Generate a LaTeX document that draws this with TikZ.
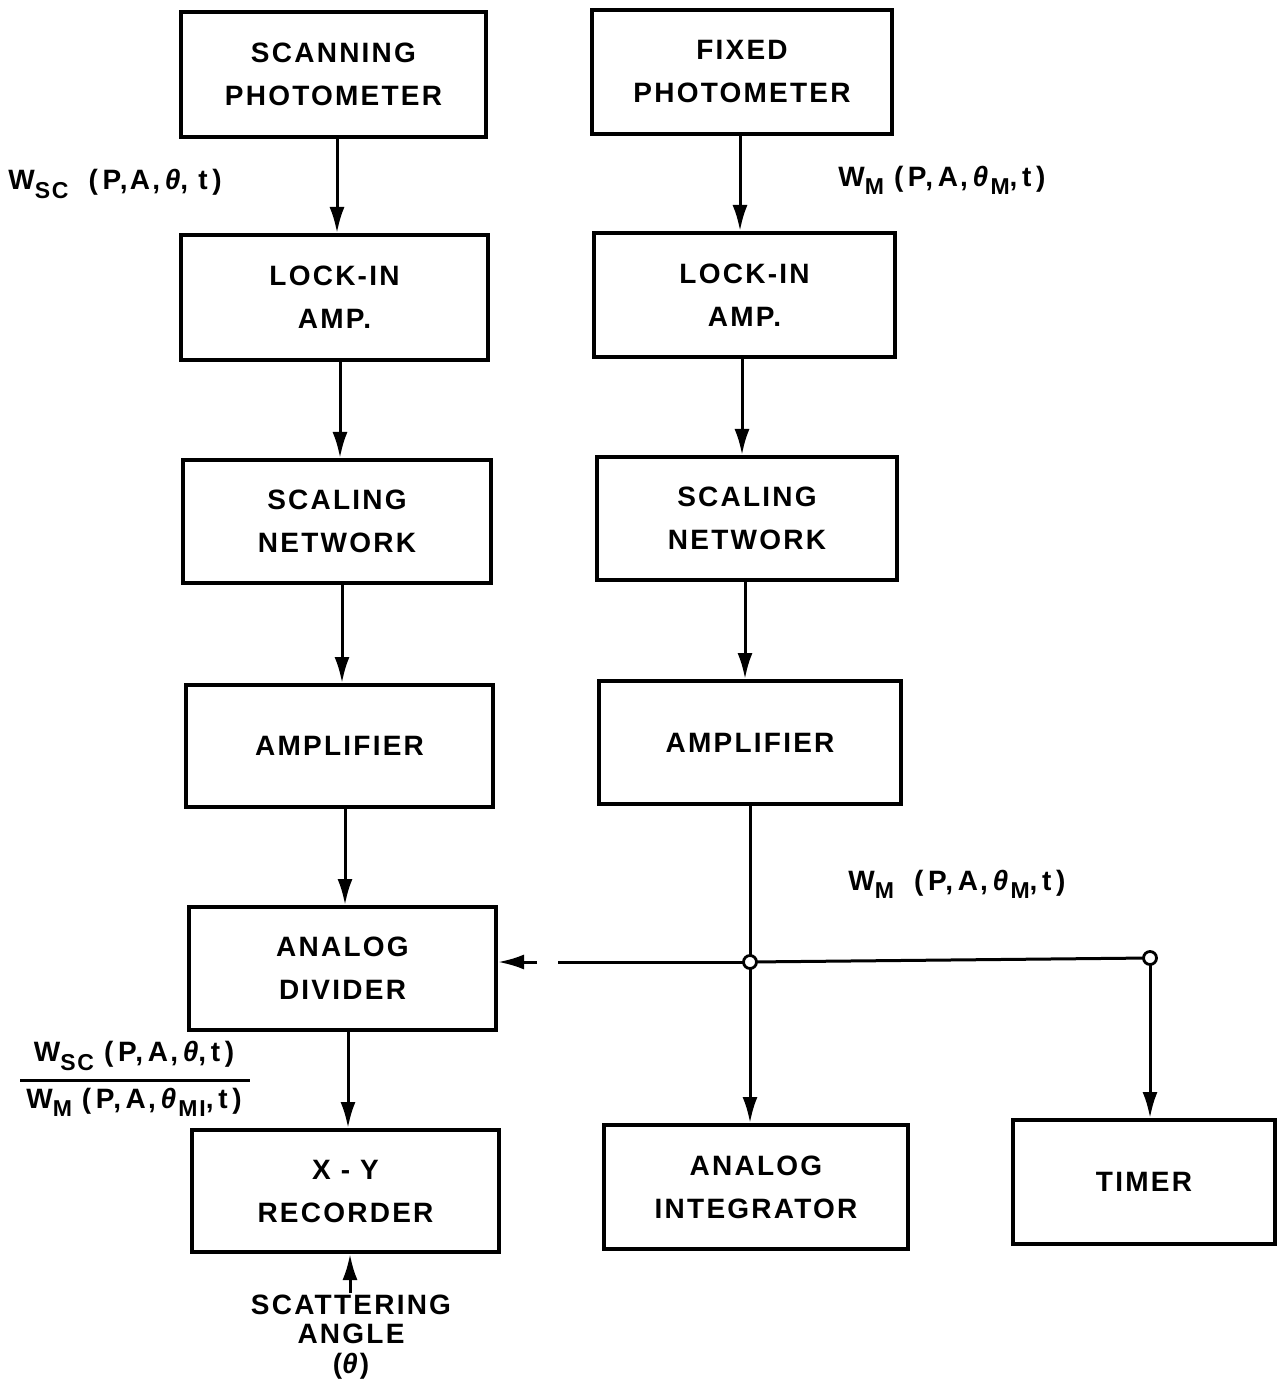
\documentclass[tikz,border=0pt]{standalone}
\usepackage{fontspec}
\newfontfamily\lbl[LetterSpace=8]{Liberation Sans}
\usetikzlibrary{arrows.meta}
\newcommand{\sbs}[1]{\raisebox{-0.55ex}{\fontsize{11.5}{12}\selectfont #1}}
\newcommand{\thi}{\textit{θ}}
\begin{document}
\begin{tikzpicture}[x=0.5pt,y=-0.5pt,
  blk/.style={draw, line width=2pt, align=center, inner sep=0pt,
    font=\lbl\bfseries\fontsize{14}{21.5}\selectfont},
  conn/.style={line width=1.5pt, -{Latex[length=13pt,width=7.5pt]}},
  wire/.style={line width=1.5pt},
  jn/.style={circle, draw, line width=1.4pt, fill=white, minimum size=6.5pt, inner sep=0pt},
  txt/.style={font=\lbl\bfseries\fontsize{14}{14}\selectfont, inner sep=0pt}]
\useasboundingbox (0,0) rectangle (1283,1384);
% left column
\node[blk, minimum width=152.5pt, minimum height=62.5pt] (sp) at (333.5,74.5) {SCANNING\\PHOTOMETER};
\node[blk, minimum width=153.5pt, minimum height=62.5pt] (la1) at (334.5,297.5) {LOCK-IN\\AMP.};
\node[blk, minimum width=154pt, minimum height=61.5pt] (sn1) at (337,521.5) {SCALING\\NETWORK};
\node[blk, minimum width=153.5pt, minimum height=61pt] (am1) at (339.5,746) {AMPLIFIER};
\node[blk, minimum width=153.5pt, minimum height=61.5pt] (ad) at (342.5,968.5) {ANALOG\\DIVIDER};
\node[blk, minimum width=153.5pt, minimum height=61pt] (xy) at (345.5,1191) {X - Y\\RECORDER};
% right column
\node[blk, minimum width=150pt, minimum height=62pt] (fp) at (742,72) {FIXED\\PHOTOMETER};
\node[blk, minimum width=150.5pt, minimum height=62pt] (la2) at (744.5,295) {LOCK-IN\\AMP.};
\node[blk, minimum width=150pt, minimum height=61.5pt] (sn2) at (747,518.5) {SCALING\\NETWORK};
\node[blk, minimum width=151pt, minimum height=61.5pt] (am2) at (750,742.5) {AMPLIFIER};
\node[blk, minimum width=152pt, minimum height=62pt] (ai) at (756,1187) {ANALOG\\INTEGRATOR};
\node[blk, minimum width=131pt, minimum height=62pt] (tm) at (1144,1182) {TIMER};
% left arrows
\draw[conn] (337,137) coordinate (a1) -- (a1 |- la1.north);
\draw[conn] (340,360) coordinate (a2) -- (a2 |- sn1.north);
\draw[conn] (342,583) coordinate (a3) -- (a3 |- am1.north);
\draw[conn] (345,807) coordinate (a4) -- (a4 |- ad.north);
\draw[conn] (348,1030) coordinate (a5) -- (a5 |- xy.north);
% right arrows
\draw[conn] (740,134) coordinate (b1) -- (b1 |- la2.north);
\draw[conn] (742,357) coordinate (b2) -- (b2 |- sn2.north);
\draw[conn] (745,580) coordinate (b3) -- (b3 |- am2.north);
% junctions
\coordinate (j1) at (750,962);
\coordinate (j2) at (1150,958);
\draw[wire] (j1 |- am2.south) -- (j1);
\draw[conn] (j1) -- (j1 |- ai.north);
\draw[wire] (j1) -- (j2);
\draw[conn] (j2) -- (j2 |- tm.north);
\coordinate (g1) at (558,962);
\coordinate (g2) at (537,962);
\draw[wire] (j1) -- (g1);
\draw[conn] (g2) -- (ad.east |- j1);
\node[jn] at (j1) {};
\node[jn] at (j2) {};
% scattering angle
\node[txt, align=center] (sa) at (351,1337) {SCATTERING\\[0.6pt]ANGLE\\[0.6pt](\thi)};
\draw[conn] (350,1293) coordinate (s0) -- (s0 |- xy.south);
% labels
\node[txt, anchor=west] (l1) at (8,184) {W\sbs{SC}\ \ (\,P,A,\,\thi,\ t\,)};
\node[txt, anchor=west] (l2) at (838,180) {W\sbs{M}\ (\,P,\,A,\,\thi\sbs{M},\,t\,)};
\node[txt, anchor=west] (l3) at (848,884) {W\sbs{M}\ \ (\,P,\,A,\,\thi\sbs{M},\,t\,)};
\node[txt] (fn) at (134,1056) {W\sbs{SC}\ (\,P,\,A,\,\thi,\,t\,)};
\node[txt] (fd) at (134,1102) {W\sbs{M}\ (\,P,\,A,\,\thi\sbs{MI},\,t\,)};
\draw[wire] (20,1080) coordinate (f0) -- (250,1080) coordinate (f1);
\end{tikzpicture}
\end{document}
